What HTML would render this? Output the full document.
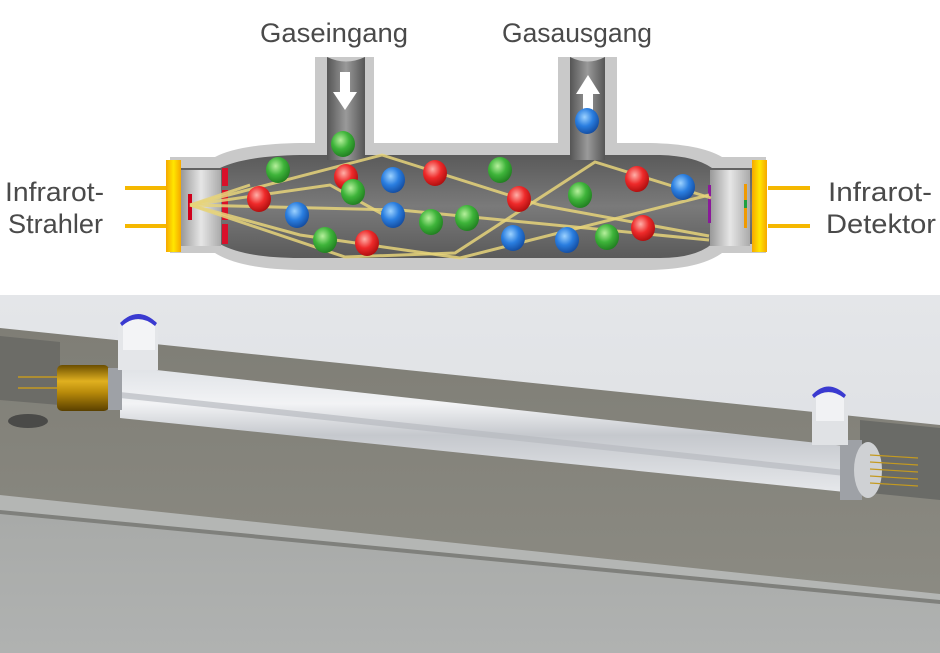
<!DOCTYPE html>
<html><head><meta charset="utf-8"><style>
html,body{margin:0;padding:0;background:#fff;width:940px;height:653px;overflow:hidden}
text{font-family:"Liberation Sans","DejaVu Sans",sans-serif;fill:#4a4a4a}
</style></head><body>
<svg width="940" height="653" viewBox="0 0 940 653" xmlns="http://www.w3.org/2000/svg">
<defs>
<radialGradient id="gr" cx="0.4" cy="0.35" r="0.7"><stop offset="0" stop-color="#ffb0a8"/><stop offset="0.5" stop-color="#ee2a2a"/><stop offset="1" stop-color="#a80c0c"/></radialGradient>
<radialGradient id="gg" cx="0.4" cy="0.35" r="0.7"><stop offset="0" stop-color="#b6f09c"/><stop offset="0.5" stop-color="#3eb43a"/><stop offset="1" stop-color="#1e7a1e"/></radialGradient>
<radialGradient id="gb" cx="0.4" cy="0.35" r="0.7"><stop offset="0" stop-color="#9cd2ff"/><stop offset="0.5" stop-color="#2a7ee0"/><stop offset="1" stop-color="#12489a"/></radialGradient>
<linearGradient id="pipe" x1="0" x2="1"><stop offset="0" stop-color="#555"/><stop offset="0.5" stop-color="#9a9a9a"/><stop offset="1" stop-color="#555"/></linearGradient>
<linearGradient id="inner" x1="0" y1="0" x2="0" y2="1"><stop offset="0" stop-color="#5a5a5a"/><stop offset="0.5" stop-color="#7a7a7a"/><stop offset="1" stop-color="#5a5a5a"/></linearGradient>
<linearGradient id="cap" x1="0" x2="1"><stop offset="0" stop-color="#999"/><stop offset="0.5" stop-color="#e6e6e6"/><stop offset="1" stop-color="#aaa"/></linearGradient>
<linearGradient id="yel" x1="0" x2="1"><stop offset="0" stop-color="#f6a800"/><stop offset="0.5" stop-color="#ffe600"/><stop offset="1" stop-color="#f6a800"/></linearGradient>
<linearGradient id="sky" x1="0" y1="0" x2="0" y2="1"><stop offset="0" stop-color="#e4e6e9"/><stop offset="1" stop-color="#d8dade"/></linearGradient>
<linearGradient id="tube" x1="0" y1="0" x2="0" y2="1"><stop offset="0" stop-color="#dfe2e6"/><stop offset="0.3" stop-color="#f2f3f5"/><stop offset="0.55" stop-color="#c5c8cd"/><stop offset="1" stop-color="#e6e8eb"/></linearGradient>
<linearGradient id="gold" x1="0" y1="0" x2="0" y2="1"><stop offset="0" stop-color="#6b4e00"/><stop offset="0.35" stop-color="#e0b020"/><stop offset="0.6" stop-color="#b88a0a"/><stop offset="1" stop-color="#5a4000"/></linearGradient>
<linearGradient id="slab" x1="0" y1="0" x2="0" y2="1"><stop offset="0" stop-color="#7f7e76"/><stop offset="1" stop-color="#8e8d85"/></linearGradient>
<linearGradient id="low" x1="0" y1="0" x2="0" y2="1"><stop offset="0" stop-color="#a7a9a7"/><stop offset="1" stop-color="#b0b2b1"/></linearGradient>
</defs>

<!-- TOP DIAGRAM -->
<text x="260" y="42" font-size="27" textLength="148" lengthAdjust="spacingAndGlyphs">Gaseingang</text>
<text x="502" y="42" font-size="27" textLength="150" lengthAdjust="spacingAndGlyphs">Gasausgang</text>
<text x="5" y="201" font-size="27" textLength="99" lengthAdjust="spacingAndGlyphs">Infrarot-</text>
<text x="8" y="233" font-size="27" textLength="95" lengthAdjust="spacingAndGlyphs">Strahler</text>
<text x="828" y="201" font-size="27" textLength="104" lengthAdjust="spacingAndGlyphs">Infrarot-</text>
<text x="826" y="233" font-size="27" textLength="110" lengthAdjust="spacingAndGlyphs">Detektor</text>

<!-- wires -->
<rect x="125" y="186" width="42" height="4" fill="#f5b800"/>
<rect x="125" y="224" width="42" height="4" fill="#f5b800"/>
<rect x="768" y="186" width="42" height="4" fill="#f5b800"/>
<rect x="768" y="224" width="42" height="4" fill="#f5b800"/>

<!-- outer wall -->
<path d="M170,157 L215,157 Q240,144 300,143 L315,143 L315,57 L374,57 L374,143 L558,143 L558,57 L617,57 L617,143 L650,143 Q700,144 722,157 L766,157 L766,253 L722,253 Q700,269 650,270 L300,270 Q240,269 215,253 L170,253 Z" fill="#c9c9c9"/>
<!-- inner dark -->
<path d="M178,168 L220,168 Q245,156 300,155 L660,155 Q695,156 712,168 L756,168 L756,244 L712,244 Q695,258 660,258 L300,258 Q245,258 220,244 L178,244 Z" fill="url(#inner)"/>
<!-- pipes -->
<path d="M327,57 Q346,66 365,57 L365,160 L327,160 Z" fill="url(#pipe)"/>
<path d="M570,57 Q588,66 605,57 L605,160 L570,160 Z" fill="url(#pipe)"/>
<!-- arrows -->
<polygon points="340,72 350,72 350,92 357,92 345,110 333,92 340,92" fill="#fff"/>
<polygon points="583,111 593,111 593,94 600,94 588,75 576,94 583,94" fill="#fff"/>
<!-- end caps -->
<rect x="181" y="170" width="40" height="76" fill="url(#cap)"/>
<rect x="710" y="170" width="40" height="76" fill="url(#cap)"/>
<!-- yellow plates -->
<rect x="166" y="160" width="15" height="92" fill="url(#yel)"/>
<rect x="752" y="160" width="15" height="92" fill="url(#yel)"/>
<rect x="188" y="194" width="4" height="26" fill="#d0001c"/>
<rect x="222" y="168" width="6" height="18" fill="#d8102a"/>
<rect x="222" y="190" width="6" height="30" fill="#d8102a"/>
<rect x="222" y="224" width="6" height="20" fill="#d8102a"/>
<rect x="708" y="185" width="3" height="38" fill="#8a1a9a"/>
<rect x="744" y="184" width="3" height="44" fill="#f09a00"/>
<rect x="744" y="200" width="3" height="8" fill="#20a040"/>

<!-- beams -->
<g stroke="#e6d47a" stroke-opacity="0.85" stroke-width="3" fill="none">
<polyline points="190,205 382,155 540,205 709,236"/>
<polyline points="190,205 330,185 393,220"/>
<polyline points="190,205 345,257 455,253 595,162 711,198"/>
<polyline points="190,205 300,235 460,258 709,195"/>
<polyline points="190,205 250,185"/>
<polyline points="190,205 400,210 709,240"/>
</g>

<!-- balls -->
<g>
<ellipse cx="343" cy="144" rx="12" ry="13" fill="url(#gg)"/>
<ellipse cx="587" cy="121" rx="12" ry="13" fill="url(#gb)"/>
<ellipse cx="278" cy="170" rx="12" ry="13" fill="url(#gg)"/>
<ellipse cx="346" cy="177" rx="12" ry="13" fill="url(#gr)"/>
<ellipse cx="353" cy="192" rx="12" ry="13" fill="url(#gg)"/>
<ellipse cx="393" cy="180" rx="12" ry="13" fill="url(#gb)"/>
<ellipse cx="435" cy="173" rx="12" ry="13" fill="url(#gr)"/>
<ellipse cx="500" cy="170" rx="12" ry="13" fill="url(#gg)"/>
<ellipse cx="519" cy="199" rx="12" ry="13" fill="url(#gr)"/>
<ellipse cx="580" cy="195" rx="12" ry="13" fill="url(#gg)"/>
<ellipse cx="637" cy="179" rx="12" ry="13" fill="url(#gr)"/>
<ellipse cx="683" cy="187" rx="12" ry="13" fill="url(#gb)"/>
<ellipse cx="259" cy="199" rx="12" ry="13" fill="url(#gr)"/>
<ellipse cx="297" cy="215" rx="12" ry="13" fill="url(#gb)"/>
<ellipse cx="393" cy="215" rx="12" ry="13" fill="url(#gb)"/>
<ellipse cx="431" cy="222" rx="12" ry="13" fill="url(#gg)"/>
<ellipse cx="467" cy="218" rx="12" ry="13" fill="url(#gg)"/>
<ellipse cx="325" cy="240" rx="12" ry="13" fill="url(#gg)"/>
<ellipse cx="367" cy="243" rx="12" ry="13" fill="url(#gr)"/>
<ellipse cx="513" cy="238" rx="12" ry="13" fill="url(#gb)"/>
<ellipse cx="567" cy="240" rx="12" ry="13" fill="url(#gb)"/>
<ellipse cx="607" cy="237" rx="12" ry="13" fill="url(#gg)"/>
<ellipse cx="643" cy="228" rx="12" ry="13" fill="url(#gr)"/>
</g>

<!-- BOTTOM RENDER -->
<rect x="0" y="295" width="940" height="358" fill="url(#sky)"/>
<!-- slab -->
<polygon points="0,328 940,425 940,653 0,653" fill="url(#slab)"/>
<polygon points="0,336 60,342 60,405 0,400" fill="#6c6c67"/>
<polygon points="860,420 940,428 940,500 860,492" fill="#6a6b67"/>
<!-- lower face -->
<polygon points="0,497 940,600 940,653 0,653" fill="url(#low)"/>
<polygon points="0,495 940,594 940,602 0,512" fill="#b4b6b4"/>
<polygon points="0,510 940,600 940,604 0,514" fill="#7f807c"/>
<ellipse cx="28" cy="421" rx="20" ry="7" fill="#4a4a48"/>
<!-- tube -->
<polygon points="120,366 845,446 845,492 120,418" fill="url(#tube)"/>
<polygon points="120,392 845,470 845,476 120,398" fill="#b8bbc0" opacity="0.7"/>
<!-- emitter -->
<line x1="18" y1="377" x2="60" y2="377" stroke="#c49a20" stroke-width="1.5"/>
<line x1="18" y1="388" x2="60" y2="388" stroke="#c49a20" stroke-width="1.5"/>
<rect x="57" y="365" width="52" height="46" rx="5" fill="url(#gold)"/>
<rect x="108" y="368" width="14" height="42" fill="#9ea1a6"/>
<!-- left fitting -->
<rect x="118" y="322" width="40" height="48" fill="#e4e6e9"/>
<rect x="123" y="320" width="32" height="30" fill="#f3f4f6"/>
<path d="M120,323 Q138,305 157,323 L155,326 Q138,312 122,326 Z" fill="#3a3ad0"/>
<!-- detector -->
<rect x="840" y="440" width="22" height="60" fill="#9ea1a6"/>
<ellipse cx="868" cy="470" rx="14" ry="28" fill="#cfd1d4"/>
<g stroke="#c49a20" stroke-width="1.2">
<line x1="870" y1="455" x2="918" y2="458"/><line x1="870" y1="462" x2="918" y2="465"/>
<line x1="870" y1="469" x2="918" y2="472"/><line x1="870" y1="476" x2="918" y2="479"/>
<line x1="870" y1="483" x2="918" y2="486"/>
</g>
<!-- right fitting -->
<rect x="812" y="395" width="36" height="50" fill="#e0e2e5"/>
<rect x="816" y="393" width="28" height="28" fill="#f1f2f4"/>
<path d="M812,395 Q828,378 846,395 L844,398 Q828,386 814,398 Z" fill="#3a3ad0"/>
</svg>
</body></html>
